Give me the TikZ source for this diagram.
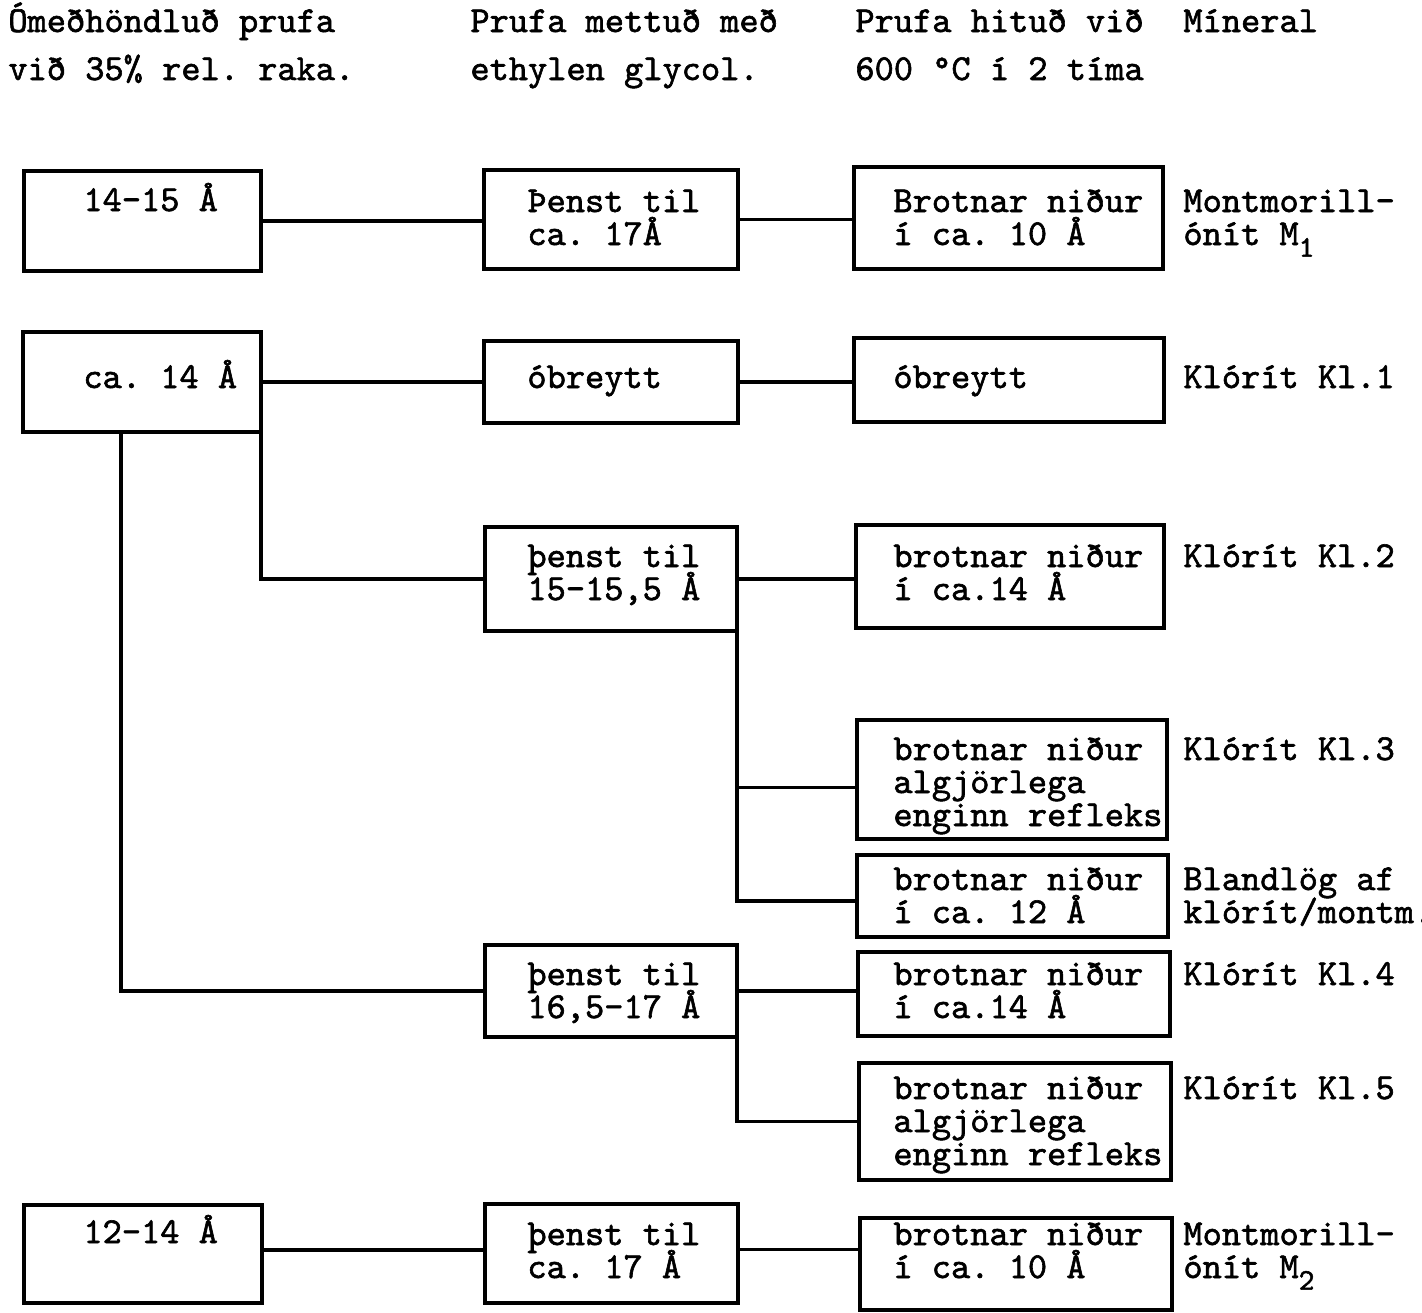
\documentclass[tikz,border=0pt]{standalone}
\usepackage{fontspec}
\usetikzlibrary{fit}
\newfontfamily\tw[FakeBold=1.6]{lmmono10-regular.otf}
\frenchspacing
\newcommand{\lowsub}[1]{\raisebox{-0.32em}{\fontsize{15pt}{15pt}\selectfont #1}}
\newcommand{\boxfont}{\tw\fontsize{18.3pt}{16.5pt}\selectfont\lineskiplimit-50pt\relax\frenchspacing}
\newcommand{\headfont}{\tw\fontsize{18.3pt}{24pt}\selectfont\lineskiplimit-50pt\relax\frenchspacing}
\begin{document}
\begin{tikzpicture}[x=0.5pt,y=-0.5pt,
  box/.style={draw, line width=1.7pt, inner sep=0pt, outer sep=0pt},
  wire/.style={draw, line width=1.7pt},
  txt/.style={anchor=base west, inner sep=0pt, align=left, font=\boxfont},
  head/.style={anchor=base west, inner sep=0pt, align=left, font=\headfont}]
\useasboundingbox (0,0) rectangle (1422,1312);

% headers (coordinates give the baseline of the last line)
\node[head] (h1) at (8,80) {Ómeðhöndluð prufa\\við 35\% rel. raka.};
\node[head] (h2) at (470,80) {Prufa mettuð með\\ethylen glycol.};
\node[head] (h3) at (855,80) {Prufa hituð við\\600 °C í 2 tíma};
\node[head] (h4) at (1183,32) {Míneral};

% boxes
\node[box, fit={(24,171) (261,271)}] (A1) {};
\node[box, fit={(23,332) (261,432)}] (A2) {};
\node[box, fit={(24,1205) (262,1303)}] (A3) {};
\node[box, fit={(484,170) (738,269)}] (B1) {};
\node[box, fit={(484,341) (738,423)}] (B2) {};
\node[box, fit={(485,527) (737,631)}] (B3) {};
\node[box, fit={(485,945) (737,1037)}] (B4) {};
\node[box, fit={(485,1204) (738,1303)}] (B5) {};
\node[box, fit={(854,167) (1163,269)}] (C1) {};
\node[box, fit={(854,338) (1164,422)}] (C2) {};
\node[box, fit={(856,525) (1164,628)}] (C3) {};
\node[box, fit={(857,720) (1167,839)}] (C4) {};
\node[box, fit={(857,855) (1168,937)}] (C5) {};
\node[box, fit={(858,952) (1170,1036)}] (C6) {};
\node[box, fit={(859,1063) (1171,1180)}] (C7) {};
\node[box, fit={(860,1218) (1172,1310)}] (C8) {};

% box texts
\node[txt] (tA1) at (83,211) {14-15 Å};
\node[txt] (tA2) at (83,388) {ca. 14 Å};
\node[txt] (tA3) at (83,1243) {12-14 Å};
\node[txt] (tB1) at (527,245) {Þenst til\\ca. 17Å};
\node[txt] (tB2) at (527,388) {óbreytt};
\node[txt] (tB3) at (527,600) {þenst til\\15-15,5 Å};
\node[txt] (tB4) at (527,1018) {þenst til\\16,5-17 Å};
\node[txt] (tB5) at (527,1278) {þenst til\\ca. 17 Å};
\node[txt] (tC1) at (893,245) {Brotnar niður\\í ca. 10 Å};
\node[txt] (tC2) at (893,388) {óbreytt};
\node[txt] (tC3) at (893,600) {brotnar niður\\í ca.14 Å};
\node[txt] (tC4) at (893,826) {brotnar niður\\algjörlega\\enginn refleks};
\node[txt] (tC5) at (893,923) {brotnar niður\\í ca. 12 Å};
\node[txt] (tC6) at (893,1018) {brotnar niður\\í ca.14 Å};
\node[txt] (tC7) at (893,1165) {brotnar niður\\algjörlega\\enginn refleks};
\node[txt] (tC8) at (893,1278) {brotnar niður\\í ca. 10 Å};

% mineral labels
\node[txt] (m1) at (1183,245) {Montmorill-\\ónít M\lowsub{1}};
\node[txt] (m2) at (1183,388) {Klórít Kl.1};
\node[txt] (m3) at (1183,567) {Klórít Kl.2};
\node[txt] (m4) at (1183,760) {Klórít Kl.3};
\node[txt] (m5) at (1183,923) {Blandlög af\\klórít/montm.};
\node[txt] (m6) at (1183,985) {Klórít Kl.4};
\node[txt] (m7) at (1183,1099) {Klórít Kl.5};
\node[txt] (m8) at (1183,1278) {Montmorill-\\ónít M\lowsub{2}};

% connectors
\draw[wire] (A1.east) -- (A1.east -| B1.west);
\draw[wire] (B1.east) -- (B1.east -| C1.west);
\draw[wire] (A2.east) -- (A2.east -| B2.west);
\draw[wire] (B2.east) -- (B2.east -| C2.west);
\draw[wire] (A2.south east) |- (B3.west);
\draw[wire] ([xshift=49pt]A2.south west) |- (B4.west);
\draw[wire] (B3.east) -- (B3.east -| C3.west);
\draw[wire] (B3.south east) |- ([yshift=-4pt]C4.west);
\draw[wire] (B3.south east) |- ([yshift=-2.5pt]C5.west);
\draw[wire] (B4.east) -- (B4.east -| C6.west);
\draw[wire] (B4.south east) |- (C7.west);
\draw[wire] ([yshift=2pt]A3.east) -- ([yshift=2pt]A3.east -| B5.west);
\draw[wire] ([yshift=2pt]B5.east) -- ([yshift=2pt]B5.east -| C8.west);
\end{tikzpicture}
\end{document}
